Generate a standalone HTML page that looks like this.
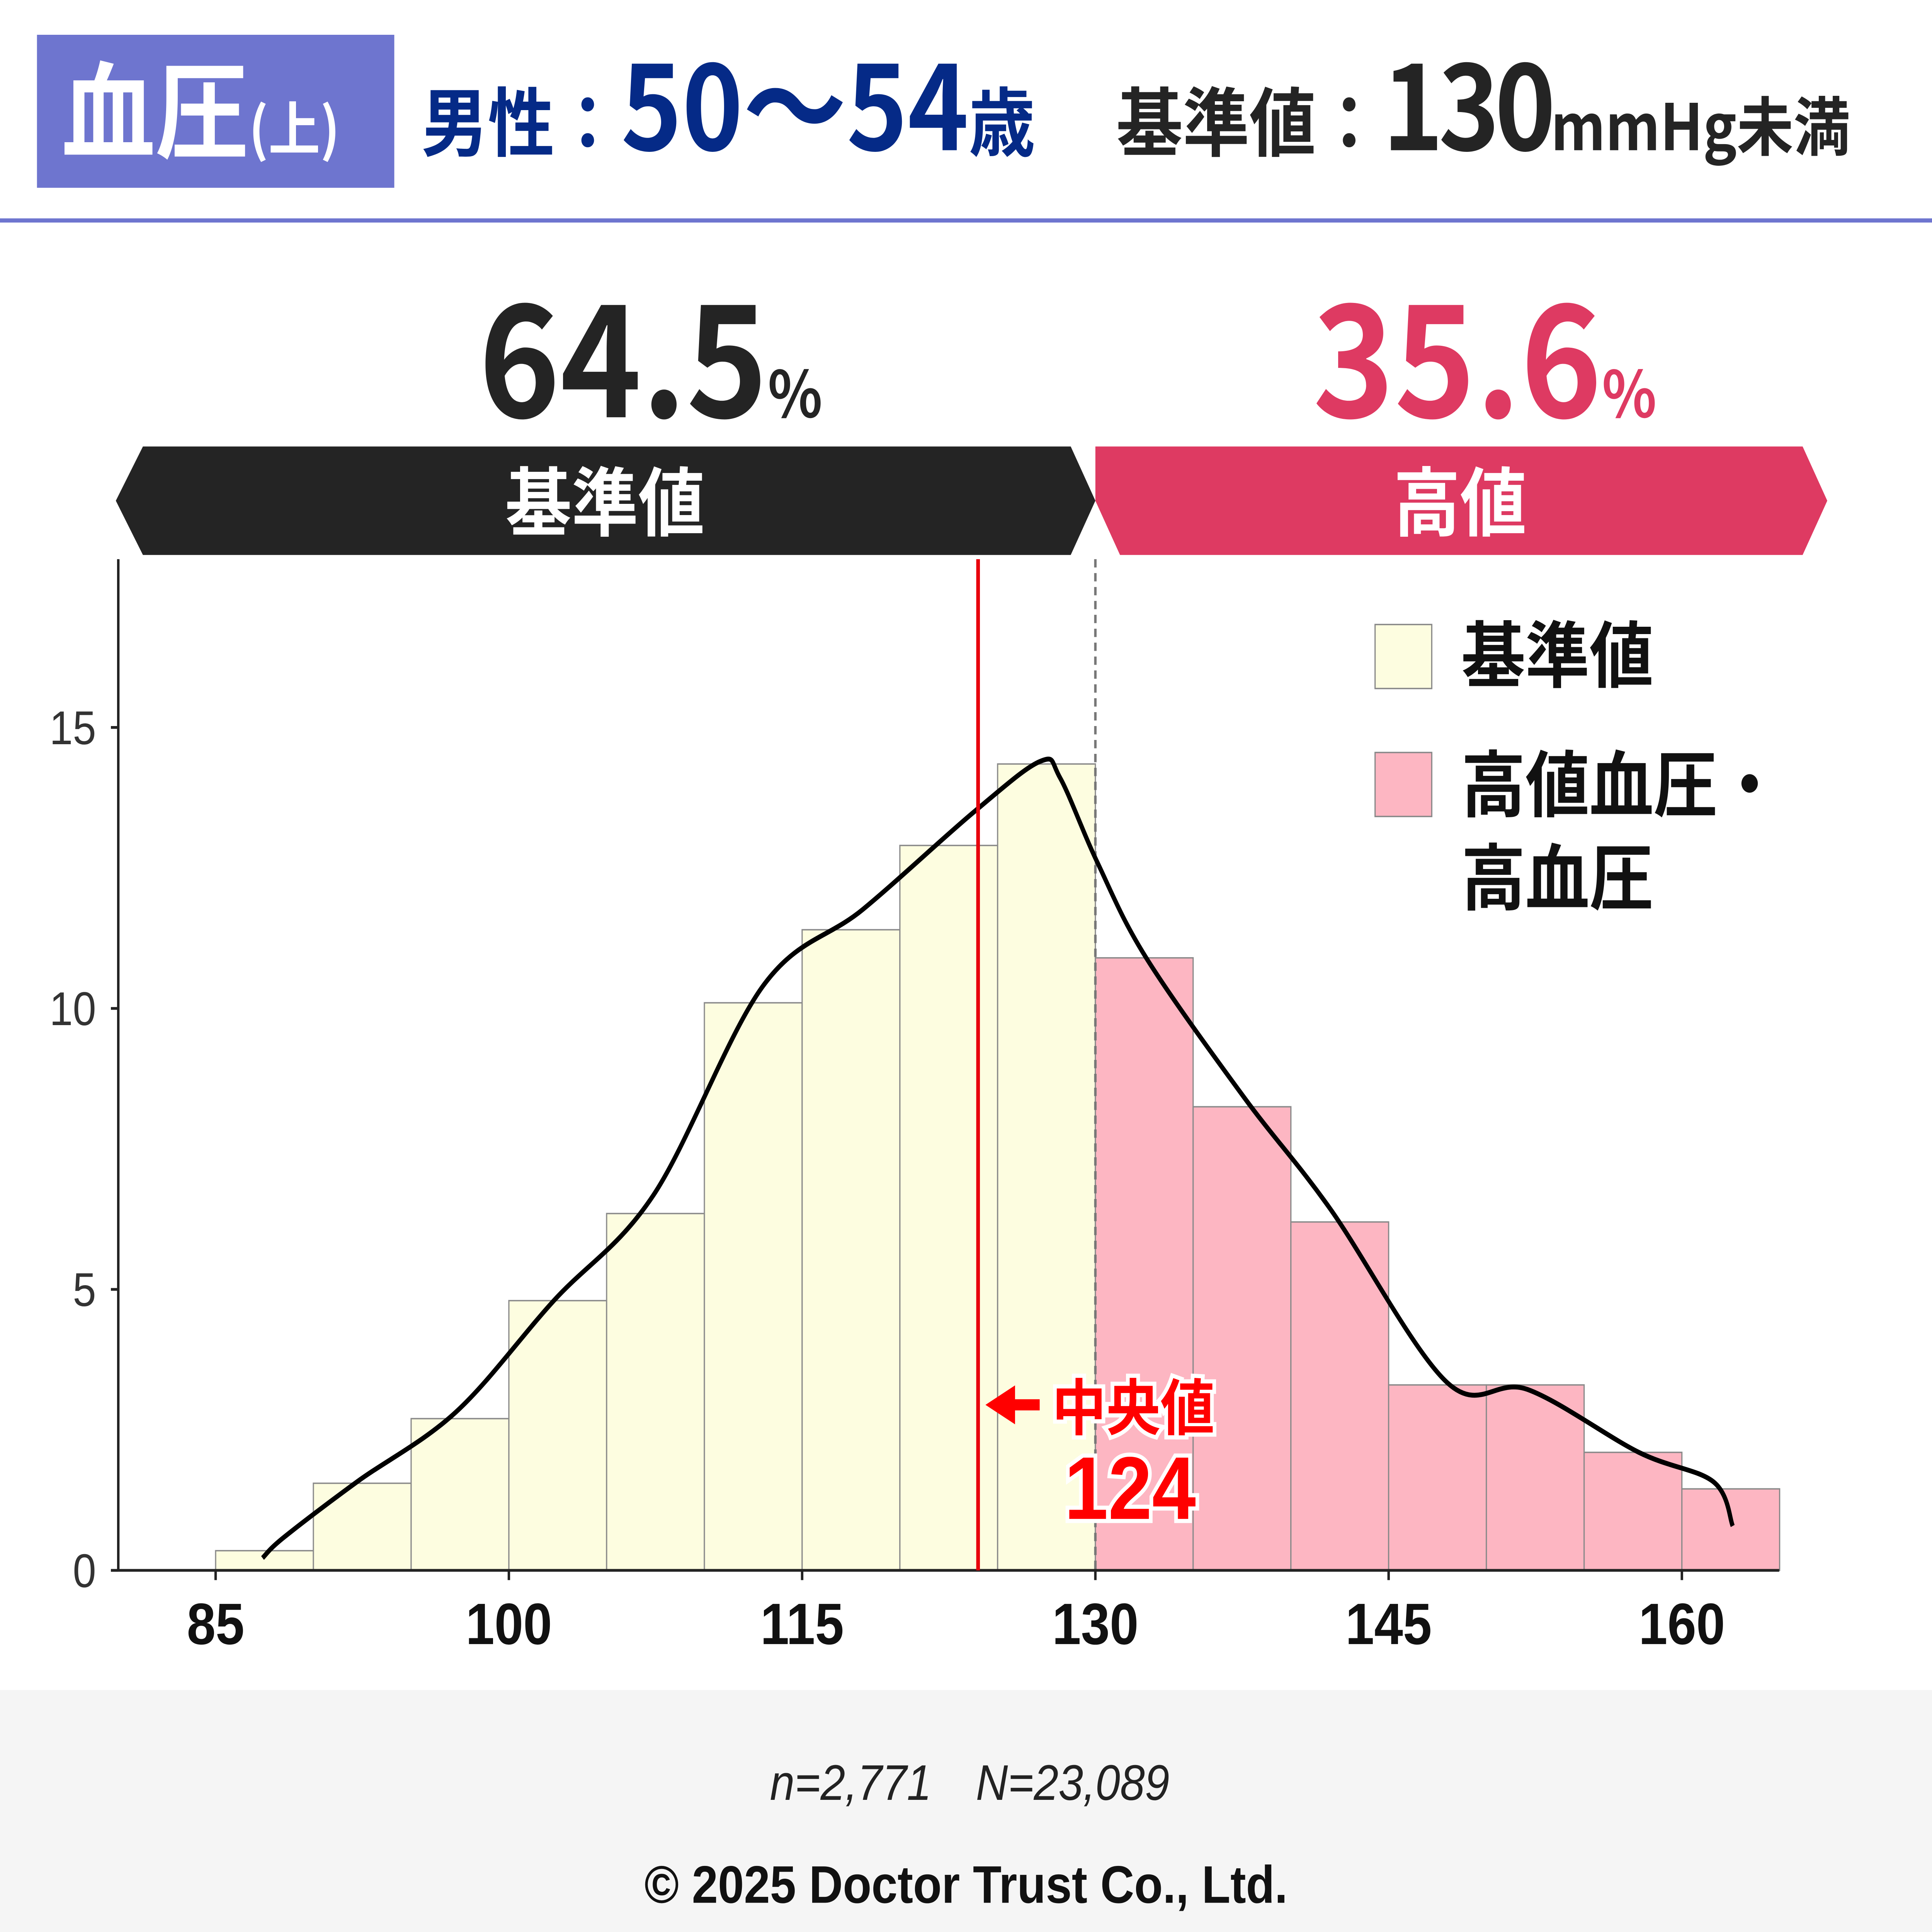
<!DOCTYPE html>
<html><head><meta charset="utf-8"><style>
html,body{margin:0;padding:0;background:#fff;width:100%;height:100%;overflow:hidden}
svg{display:block;position:absolute;left:0;top:0;width:100vw;height:100vh}
text{font-family:"Liberation Sans","Noto Sans CJK JP",sans-serif}
</style></head><body>
<svg id="c" viewBox="0 0 1568 1389" preserveAspectRatio="none" xmlns="http://www.w3.org/2000/svg">
<g>
<rect x="30" y="25" width="290" height="110" fill="#6e75cf"/>
<text x="50" y="108" font-size="76" font-weight="bold" fill="#fff" style="font-family:'Noto Sans CJK JP',sans-serif">血圧<tspan font-size="42">(上)</tspan></text>
<text x="342" y="108" font-weight="bold" fill="#052a87" style="font-family:'Noto Sans CJK JP',sans-serif"><tspan font-size="54">男性：</tspan><tspan font-size="84">50〜54</tspan><tspan font-size="54">歳</tspan></text>
<text x="906" y="108" font-weight="bold" fill="#242424" style="font-family:'Noto Sans CJK JP',sans-serif"><tspan font-size="54">基準値：</tspan><tspan font-size="84" letter-spacing="-4">130</tspan><tspan font-size="46">mmHg未満</tspan></text>
<rect x="0" y="157" width="1568" height="3" fill="#6e75cf"/>
</g>
<text x="528" y="300" text-anchor="middle" font-size="112" font-weight="bold" fill="#242424" style="font-family:'Noto Sans CJK JP',sans-serif">64.5<tspan font-size="46">%</tspan></text>
<text x="1205" y="300" text-anchor="middle" font-size="112" font-weight="bold" fill="#de3a62" style="font-family:'Noto Sans CJK JP',sans-serif">35.6<tspan font-size="46">%</tspan></text>
<polygon points="116,321 869,321 889,360 869,399 116,399 94,360" fill="#242424"/>
<text x="491" y="381" text-anchor="middle" font-size="54" font-weight="bold" fill="#fff" style="font-family:'Noto Sans CJK JP',sans-serif">基準値</text>
<polygon points="889,321 1463,321 1483,360 1463,399 909,399 889,360" fill="#de3a62"/>
<text x="1185" y="381" text-anchor="middle" font-size="54" font-weight="bold" fill="#fff" style="font-family:'Noto Sans CJK JP',sans-serif">高値</text>
<g id="plot"></g>
<g>
<rect x="1116" y="449" width="46" height="46" fill="#fdfde0" stroke="#888"/>
<text x="1186" y="490" font-size="52" font-weight="bold" fill="#111" style="font-family:'Noto Sans CJK JP',sans-serif">基準値</text>
<rect x="1116" y="541" width="46" height="46" fill="#fdb6c2" stroke="#888"/>
<text x="1186" y="583" font-size="52" font-weight="bold" fill="#111" style="font-family:'Noto Sans CJK JP',sans-serif">高値血圧・</text>
<text x="1186" y="650" font-size="52" font-weight="bold" fill="#111" style="font-family:'Noto Sans CJK JP',sans-serif">高血圧</text>
</g>
<rect x="0" y="1215" width="1568" height="174" fill="#f5f5f5"/>
<text x="787" y="1294" text-anchor="middle" font-size="36" font-style="italic" fill="#222">n=2,771　N=23,089</text>
<text x="784" y="1368" text-anchor="middle" font-size="38" font-weight="bold" fill="#111">© 2025 Doctor Trust Co., Ltd.</text>
</svg>
<script>
const binStarts=[85,90,95,100,105,110,115,120,125,130,135,140,145,150,155,160];
const binValues=[0.35,1.55,2.7,4.8,6.35,10.1,11.4,12.9,14.35,10.9,8.25,6.2,3.3,3.3,2.1,1.45];
const kdeX=[87.4,88.5,92.25,97.3,102.3,107.4,113.0,118.1,123.8,127.2,128.2,130.1,132.6,137.6,142.0,148.0,152.1,157.8,161.6,162.6];
const kdeY=[0.22,0.59,1.58,2.82,4.8,6.68,10.4,11.76,13.5,14.4,14.1,12.6,10.9,8.42,6.44,3.34,3.22,2.1,1.58,0.79];
const xTicks=[85,100,115,130,145,160];
const yTicks=[0,5,10,15];
const binWidth=5, threshold=130, median=124;
const NS="http://www.w3.org/2000/svg";
const sx=v=>175+(v-85)*(714/45);
const sy=v=>1129-v*40.4;
const g=document.getElementById('plot');
function mk(t,a){const e=document.createElementNS(NS,t);for(const k in a)e.setAttribute(k,a[k]);g.appendChild(e);return e;}
binStarts.forEach((b,i)=>{
 const r=mk('rect',{x:sx(b),y:sy(binValues[i]),width:sx(b+binWidth)-sx(b),height:sy(0)-sy(binValues[i]),fill:b>=threshold?'#fdb6c2':'#fdfde0',stroke:'#8a8a8a','stroke-width':1});
 
 
});
let ax=mk('line',{x1:96,y1:402,x2:96,y2:1129,stroke:'#222','stroke-width':2});


ax=mk('line',{x1:90,y1:1129,x2:1444,y2:1129,stroke:'#222','stroke-width':2});


yTicks.forEach(t=>{
 const l=mk('line',{x1:90,y1:sy(t),x2:96,y2:sy(t),stroke:'#222','stroke-width':2});
 
 
 const tx=mk('text',{x:78,y:sy(t)+12,'text-anchor':'end','font-size':34,fill:'#333'});
 tx.textContent=t;
 
 
});
xTicks.forEach(t=>{
 const l=mk('line',{x1:sx(t),y1:1129,x2:sx(t),y2:1136,stroke:'#222','stroke-width':2});
 
 
 const tx=mk('text',{x:sx(t),y:1182,'text-anchor':'middle','font-size':42,'font-weight':'bold',fill:'#111'});
 tx.textContent=t;
 
 
});
const th=mk('line',{x1:sx(threshold),y1:402,x2:sx(threshold),y2:1129,stroke:'#777','stroke-width':2,'stroke-dasharray':'6,4'});


const P=kdeX.map((x,i)=>[sx(x),sy(kdeY[i])]);
let d='M'+P[0][0]+','+P[0][1];
for(let i=0;i<P.length-1;i++){const p0=P[i-1]||P[i],p1=P[i],p2=P[i+1],p3=P[i+2]||P[i+1];
 d+=` C${p1[0]+(p2[0]-p0[0])/6},${p1[1]+(p2[1]-p0[1])/6} ${p2[0]-(p3[0]-p1[0])/6},${p2[1]-(p3[1]-p1[1])/6} ${p2[0]},${p2[1]}`;}
const k=mk('path',{d:d,fill:'none',stroke:'#000','stroke-width':3.5});


const mx=sx(median);
const ml=mk('line',{x1:mx,y1:402,x2:mx,y2:1129,stroke:'#e8000b','stroke-width':3});


const ar=mk('path',{d:`M${mx+6},1010 L${mx+30},996 L${mx+30},1006 L${mx+50},1006 L${mx+50},1014 L${mx+30},1014 L${mx+30},1024 Z`,fill:'#f00'});


const t1=mk('text',{x:mx+60,y:1028,'font-size':44,'font-weight':'bold',fill:'#f00',stroke:'#fff','stroke-width':6,'paint-order':'stroke',style:"font-family:'Noto Sans CJK JP',sans-serif"});
t1.textContent='中央値';


const t2=mk('text',{x:mx+70,y:1092,'font-size':64,'font-weight':'bold',fill:'#f00',stroke:'#fff','stroke-width':6,'paint-order':'stroke'});
t2.textContent=median;


</script>
</body></html>
